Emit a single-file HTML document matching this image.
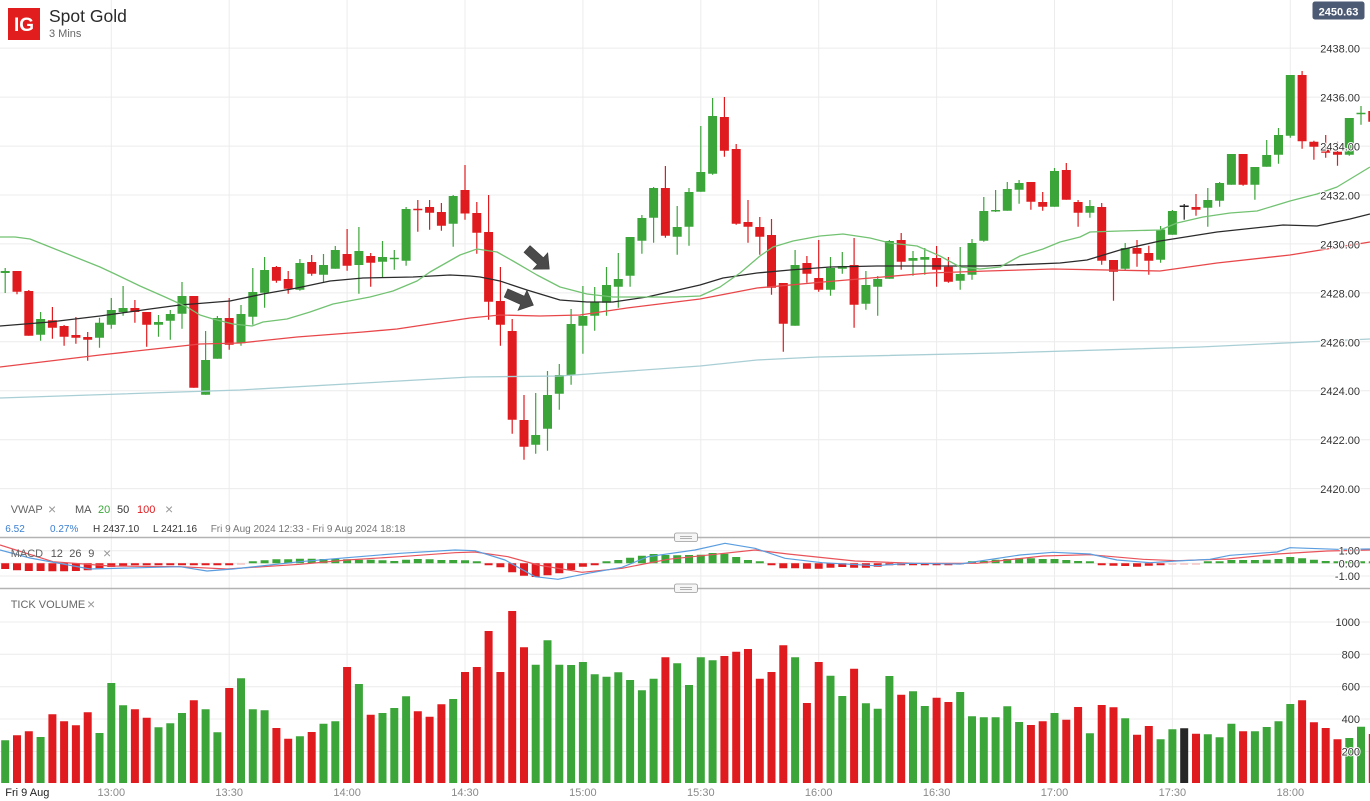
<!DOCTYPE html>
<html><head><meta charset="utf-8"><style>
html,body{margin:0;padding:0;background:#fff;}
svg{display:block;font-family:"Liberation Sans",Arial,sans-serif;}
.ax{font-size:11px;fill:#333;paint-order:stroke;stroke:#fff;stroke-width:2px;stroke-linejoin:round;}
.tm{font-size:11px;fill:#8a8a8a;text-anchor:middle;}
</style></head><body>
<svg width="1370" height="801" viewBox="0 0 1370 801" xmlns="http://www.w3.org/2000/svg">
<rect width="1370" height="801" fill="#fff"/>
<!-- vertical grid -->
<g stroke="#ececec" stroke-width="1">
<path d="M111.3 0V783M229.2 0V783M347.1 0V783M465 0V783M582.9 0V783M700.8 0V783M818.7 0V783M936.6 0V783M1054.5 0V783M1172.4 0V783M1290.3 0V783"/>
<path d="M0 48.1H1370M0 97.1H1370M0 146.1H1370M0 195H1370M0 243.9H1370M0 292.9H1370M0 341.8H1370M0 390.7H1370M0 439.7H1370M0 488.6H1370"/>
<path d="M0 550.7H1370M0 563.3H1370M0 576H1370"/>
<path d="M0 622H1370M0 654.3H1370M0 686.7H1370M0 719H1370M0 751.5H1370"/>
</g>
<!-- header -->
<rect x="8" y="8" width="32" height="32" fill="#e21d1d"/>
<text x="24" y="31" font-size="19" font-weight="bold" fill="#fff" text-anchor="middle">IG</text>
<text x="49" y="22" font-size="17.5" fill="#2a2a2a">Spot Gold</text>
<text x="49" y="37" font-size="11" fill="#666">3 Mins</text>
<rect x="1312.5" y="1.5" width="52" height="18" rx="2.5" fill="#4d5a74"/>
<text x="1338.5" y="15.3" font-size="11" font-weight="bold" fill="#fff" text-anchor="middle">2450.63</text>

<!-- candles -->
<path fill="none" stroke="#3ca53a" stroke-width="1.2" d="M5.2 268V293M40.6 312V340.7M99.5 317.7V347.7M111.3 298V328.7M123.1 286V315.7M158.5 315V336.7M170.3 310V339.7M182 282V328.7M205.6 331V394.7M217.4 316V358.7M241 305V345.7M252.8 268V324.7M264.6 257V307.7M299.9 259V290.7M323.5 254V282.7M335.3 246V268.7M358.9 227V293.7M382.5 241V277.7M394.3 250V269.7M406.1 207V265.7M453.2 195V246.7M535.7 393V453.7M547.5 371V450.7M559.3 364V409.7M571.1 309V384.7M582.9 286V353.7M594.7 287V330.7M606.5 267V315.7M618.3 253V307.7M630.1 237V286.7M641.9 215V253.7M653.6 187V242.7M677.2 206V254.7M689 188V245.7M700.8 126V191.7M712.6 98V174.7M795.1 250V325.7M830.5 257V295.7M842.3 252V273.7M865.9 271V309.7M877.7 276V315.7M889.4 240V278.7M913 251V275.7M924.8 248V274.7M960.2 247V289.7M972 239V279.7M983.8 197V241.7M995.6 190V212M1007.3 182V210.7M1019.1 180V203.7M1054.5 168V206.7M1089.9 200V217.7M1125.2 243V270.7M1160.6 226V262.7M1172.4 210V234.7M1207.8 188V226.7M1219.6 182V206.7M1231.4 154V184.7M1254.9 167V199.7M1266.7 140V166.7M1278.5 128V163.7M1290.3 75V137.7M1349.3 118V155.7M1361 106V124.7"/>
<path fill="none" stroke="#3ca53a" stroke-width="9" d="M5.2 271V273M40.6 319V334.7M99.5 322.7V337.7M111.3 310V324.7M123.1 308V312M158.5 322V324.7M170.3 314V320.7M182 296V313.7M205.6 360V394.7M217.4 318V358.7M241 314V343.3M252.8 292V316.7M264.6 270V292.7M299.9 263V289.7M323.5 265V274.7M335.3 250V268.7M358.9 251V265M382.5 257V261.7M394.3 257.8V259.3M406.1 209V260.7M453.2 196V223.7M535.7 435V444.7M547.5 395V428.7M559.3 375V393.7M571.1 324V375.3M582.9 316V325.7M594.7 302V315.7M606.5 285V302.7M618.3 279V286.7M630.1 237V275.7M641.9 218V240.7M653.6 188V217.7M677.2 227V236.7M689 192V226.7M700.8 172V191.7M712.6 116V173.7M795.1 265V325.7M830.5 268V289.7M842.3 266V268.7M865.9 285V303.7M877.7 279V286.7M889.4 241V278.7M913 258V260.7M924.8 257V259.7M960.2 274V280.7M972 243V274.7M983.8 211V240.7M995.6 210V211.5M1007.3 189V210.7M1019.1 183V189.7M1054.5 171V206.7M1089.9 206V212.7M1125.2 248V268.7M1160.6 229.5V259.7M1172.4 211V234.7M1207.8 200V207.7M1219.6 183V200.7M1231.4 154V184.7M1254.9 167V184.7M1266.7 155V166.7M1278.5 135V154.7M1290.3 75V135.7M1349.3 118V154.7M1361 112.8V114.3"/>
<path fill="none" stroke="#e01b1f" stroke-width="1.2" d="M17 271V294.3M28.8 290V335.7M52.4 307V338.7M64.1 325V345.7M75.9 317V343.7M87.7 332V360.7M134.9 300V322.7M146.7 312V346.7M193.8 296V387.7M229.2 298V349.7M276.4 266V282.7M288.2 271V293.7M311.7 255V275.7M347.1 229V270.7M370.7 253V286.7M417.8 200V231.7M429.6 200V229.7M441.4 203V230.7M465 165V219.7M476.8 202V253.7M488.6 195V319.7M500.4 267V345.7M512.2 319V433.7M524 395V459.7M665.4 166V237.7M724.4 97V156.7M736.2 144V224.7M748 200V242.7M759.8 217V254.7M771.5 219V294.7M783.3 283V351.7M806.9 256V282.7M818.7 240V291.7M854.1 238V327.7M901.2 233V269.7M936.6 246V286.7M948.4 257V282.7M1030.9 182V209.7M1042.7 192V210.7M1066.3 163V199.7M1078.1 200V226.7M1101.7 203V264.7M1113.5 260V300.7M1137 240V266.7M1148.8 245.7V274.7M1196 194V215.7M1243.1 154V185.7M1302.1 71V148.7M1313.9 140.7V159.7M1325.7 135V157.7M1337.5 141.7V165.7M1372.8 108V124"/>
<path fill="none" stroke="#e01b1f" stroke-width="9" d="M17 271V291.7M28.8 291V335.7M52.4 320.3V327.7M64.1 326V336.7M75.9 335V337.7M87.7 337V339.7M134.9 308V312M146.7 312V324.7M193.8 296V387.7M229.2 318V344.7M276.4 267V280.7M288.2 279V288.7M311.7 262V273.7M347.1 254V265.7M370.7 256V262.7M417.8 208.8V210.3M429.6 207V212.7M441.4 212V225.7M465 190V213.5M476.8 213V232.7M488.6 232V301.7M500.4 301V324.7M512.2 331V419.7M524 420V446.7M665.4 188V235.7M724.4 117V150.7M736.2 149V223.7M748 222V226.7M759.8 227V236.7M771.5 235V287.7M783.3 283V323.7M806.9 263V273.7M818.7 278V289.7M854.1 265V304.7M901.2 240V261.7M936.6 258V269.7M948.4 266.7V281.7M1030.9 182V201.7M1042.7 202V206.7M1066.3 170V199.7M1078.1 202V212.7M1101.7 207V260.7M1113.5 260V271.7M1137 248V253.7M1148.8 253V260.7M1196 207V209.7M1243.1 154V184.7M1302.1 75V141.3M1313.9 141.7V146.7M1325.7 148.7V152.7M1337.5 151.7V154.7M1372.8 111V121.7"/>
<path fill="none" stroke="#222" stroke-width="1.2" d="M1184.2 204V219.7"/>
<path fill="none" stroke="#222" stroke-width="9" d="M1184.2 205.5V207"/>

<!-- lines -->
<g fill="none" stroke-linejoin="round">
<polyline stroke="#a9cfd5" stroke-width="1.3" points="0,398 240,390 470,377 560,376 700,366 757,360 818,357 1000,353 1200,347 1370,339"/>
<polyline stroke="#e8474a" stroke-width="1.3" points="0,367 100,355 200,344 240,343 297,337 363,332 397,329 470,318 500,315 540,316 580,315 627,308 700,299 757,288 823,282 930,273 987,271 1053,269 1160,271 1217,263 1290,255 1370,242"/>
<polyline stroke="#2b2b2b" stroke-width="1.3" points="0,326 50,322 100,316 150,309 180,305 230,301 263,294 297,288 330,281 363,278 413,277 450,275 470,276 480,277 500,281 527,290 560,300 587,302 613,302 647,297 700,285 723,278 757,273 790,270 830,267 877,266 930,266 987,266 1060,263 1087,260 1120,250 1160,241 1217,232 1283,225 1317,226 1350,219 1370,214"/>
<polyline stroke="#72c272" stroke-width="1.3" points="0,237 15,237 30,239 50,247 75,257 100,267 115,274 140,286 165,297 187,307 200,315 213,319 233,324 252,326 263,322 287,319 310,312 333,304 370,297 393,291 417,281 430,272 460,255 477,249 497,252 513,261 537,275 560,287 587,294 613,297 647,297 677,297 700,296 720,287 740,273 760,256 773,247 793,241 820,236 843,234 870,238 890,243 917,246 940,256 960,267 980,269 1000,267 1020,256 1043,249 1060,242 1080,237 1090,232 1120,231 1160,230 1177,223 1203,217 1230,213 1257,211 1290,201 1317,194 1337,187 1370,167"/>
</g>

<!-- arrows -->
<g fill="#4a4a4a" stroke="#3a3a3a" stroke-width="0.6">
<polygon transform="translate(527,249) rotate(42)" points="0,-4.5 18,-4.5 18,-11 30,0 18,11 18,4.5 0,4.5"/>
<polygon transform="translate(506,293) rotate(24)" points="0,-4.5 18,-4.5 18,-11 30,0 18,11 18,4.5 0,4.5"/>
</g>

<!-- price axis labels -->
<g class="ax" text-anchor="end">
<text x="1360" y="52.6">2438.00</text>
<text x="1360" y="101.6">2436.00</text>
<text x="1360" y="150.6">2434.00</text>
<text x="1360" y="199.5">2432.00</text>
<text x="1360" y="248.4">2430.00</text>
<text x="1360" y="297.4">2428.00</text>
<text x="1360" y="346.3">2426.00</text>
<text x="1360" y="395.2">2424.00</text>
<text x="1360" y="444.2">2422.00</text>
<text x="1360" y="493.1">2420.00</text>
</g>

<!-- legend -->
<g font-size="11">
<text x="10.7" y="513" fill="#666">VWAP</text>
<text x="48" y="514" fill="#999" font-size="14">×</text>
<text x="75" y="513" fill="#555">MA</text>
<text x="98" y="513" fill="#3ca53a">20</text>
<text x="117" y="513" fill="#333">50</text>
<text x="137" y="513" fill="#e01b1f">100</text>
<text x="165" y="514" fill="#999" font-size="14">×</text>
</g>
<g font-size="10">
<text x="5.3" y="532" fill="#3a7fd0">6.52</text>
<text x="50" y="532" fill="#3a7fd0">0.27%</text>
<text x="93" y="532" fill="#333">H 2437.10</text>
<text x="153" y="532" fill="#333">L 2421.16</text>
<text x="210.7" y="532" fill="#777">Fri 9 Aug 2024 12:33 - Fri 9 Aug 2024 18:18</text>
</g>

<!-- separators -->
<path d="M0 537.5H1370M0 588.5H1370" stroke="#b3b3b3" stroke-width="1.4"/>

<!-- MACD histogram -->
<path fill="none" stroke="#e01b1f" stroke-width="8" d="M5.2 563.3V569M17 563.3V570.3M28.8 563.3V571M40.6 563.3V571M52.4 563.3V571.3M64.1 563.3V571.3M75.9 563.3V571M87.7 563.3V570.3M99.5 563.3V568.3M111.3 563.3V567M123.1 563.3V565.7M134.9 563.3V565.3M146.7 563.3V565.3M158.5 563.3V565.3M170.3 563.3V565.3M182 563.3V565.3M193.8 563.3V565.3M205.6 563.3V565.3M217.4 563.3V565.3M229.2 563.3V565.3M488.6 563.3V565.3M500.4 563.3V567.3M512.2 563.3V572.3M524 563.3V575.7M535.7 563.3V577M547.5 563.3V575.3M559.3 563.3V573.3M571.1 563.3V570M582.9 563.3V566.7M594.7 563.3V565.3M771.5 563.3V565.3M783.3 563.3V568.3M795.1 563.3V568.3M806.9 563.3V568.7M818.7 563.3V568.7M830.5 563.3V567.7M842.3 563.3V567M854.1 563.3V567.7M865.9 563.3V567.7M877.7 563.3V566.7M889.4 563.3V565.3M901.2 563.3V565.3M913 563.3V565.3M924.8 563.3V565.3M936.6 563.3V565.3M948.4 563.3V565.3M1101.7 563.3V565.3M1113.5 563.3V565.7M1125.2 563.3V566M1137 563.3V566.7M1148.8 563.3V565.7M1160.6 563.3V565.3"/>
<path fill="none" stroke="#3ca53a" stroke-width="8" d="M252.8 563.3V561.3M264.6 563.3V560.3M276.4 563.3V559.3M288.2 563.3V559.3M299.9 563.3V558.7M311.7 563.3V558.7M323.5 563.3V559M335.3 563.3V558.7M347.1 563.3V559.3M358.9 563.3V559.7M370.7 563.3V559.7M382.5 563.3V560.3M394.3 563.3V561M406.1 563.3V559.7M417.8 563.3V559M429.6 563.3V559.3M441.4 563.3V560M453.2 563.3V560M465 563.3V560.3M476.8 563.3V561.3M606.5 563.3V561.3M618.3 563.3V560M630.1 563.3V557.7M641.9 563.3V555.7M653.6 563.3V554M665.4 563.3V555M677.2 563.3V555.3M689 563.3V555M700.8 563.3V554.7M712.6 563.3V553M724.4 563.3V553.7M736.2 563.3V557M748 563.3V560M759.8 563.3V561.3M972 563.3V561.3M983.8 563.3V561M995.6 563.3V559.7M1007.3 563.3V559M1019.1 563.3V558.3M1030.9 563.3V558.3M1042.7 563.3V559M1054.5 563.3V559M1066.3 563.3V560M1078.1 563.3V561M1089.9 563.3V561.3M1207.8 563.3V561.3M1219.6 563.3V561.3M1231.4 563.3V560M1243.1 563.3V560M1254.9 563.3V560M1266.7 563.3V559.7M1278.5 563.3V559M1290.3 563.3V557M1302.1 563.3V558.3M1313.9 563.3V559.7M1325.7 563.3V561M1337.5 563.3V561.3M1349.3 563.3V561.3M1361 563.3V561.3M1372.8 563.3V561.3"/>
<path fill="none" stroke="#f3c4c4" stroke-width="8" d="M241 563.3V564.8M960.2 563.3V564.8M1172.4 563.3V564.8M1184.2 563.3V564.8M1196 563.3V564.8"/>
<!-- MACD lines -->
<g fill="none" stroke-width="1.2" stroke-linejoin="round">
<polyline stroke="#e8535a" points="0,545 53,561.7 110,566 180,566.7 227,569 300,564.3 347,560 400,556.7 455,552.7 475,552 508,556.7 538,565 582,572.3 622,568.3 668,559.3 715,554.3 755,550 788,554 855,561 915,563.3 977,563.3 1043,556 1090,554.7 1143,559.3 1177,560.7 1227,559 1277,554 1327,551 1370,550"/>
<polyline stroke="#5a9ee0" points="0,550 30,558 90,569 180,566.7 207,571 233,569 300,561.7 347,557.7 400,553.3 455,550 475,550.7 505,560 535,576.7 558,579.3 588,573.3 622,567.3 648,556.7 695,550 725,543.3 755,548.3 785,558.3 822,562.7 875,565.7 910,563.3 960,564 1020,555 1053,552.3 1090,554 1117,560 1150,562.7 1177,561 1210,559.3 1230,555.3 1277,552 1290,547.7 1337,549.3 1370,549"/>
</g>
<g font-size="11">
<text x="10.7" y="557" fill="#666">MACD</text>
<text x="50.7" y="557" fill="#555">12</text>
<text x="69.3" y="557" fill="#555">26</text>
<text x="88.3" y="557" fill="#555">9</text>
<text x="103" y="558" fill="#999" font-size="14">×</text>
</g>
<g class="ax" text-anchor="end">
<text x="1360" y="554.7">1.00</text>
<text x="1360" y="567.3">0.00</text>
<text x="1360" y="580">-1.00</text>
</g>

<!-- handles -->
<g>
<rect x="674.5" y="533" width="23" height="8.5" rx="2" fill="#f6f6f6" stroke="#9a9a9a" stroke-width="0.8"/>
<path d="M680 536.3H692M680 538.3H692" stroke="#888" stroke-width="0.7"/>
<rect x="674.5" y="584" width="23" height="8.5" rx="2" fill="#f6f6f6" stroke="#9a9a9a" stroke-width="0.8"/>
<path d="M680 587.3H692M680 589.3H692" stroke="#888" stroke-width="0.7"/>
</g>

<!-- volume -->
<text x="10.7" y="608" font-size="11" fill="#666">TICK VOLUME</text>
<text x="87" y="609" font-size="14" fill="#999">×</text>
<path fill="none" stroke="#3ca53a" stroke-width="8" d="M5.2 783V740.3M40.6 783V737M99.5 783V733M111.3 783V683M123.1 783V705.3M158.5 783V727.3M170.3 783V723.3M182 783V713M205.6 783V709.3M217.4 783V732.3M241 783V678.3M252.8 783V709.3M264.6 783V710.3M299.9 783V736.3M323.5 783V723.7M335.3 783V721.3M358.9 783V684M382.5 783V713M394.3 783V708M406.1 783V696.3M453.2 783V699M535.7 783V664.7M547.5 783V640.3M559.3 783V664.7M571.1 783V665M582.9 783V662M594.7 783V674.3M606.5 783V676.7M618.3 783V672.3M630.1 783V680M641.9 783V690.3M653.6 783V678.7M677.2 783V663.3M689 783V685M700.8 783V657.3M712.6 783V660.3M795.1 783V657.3M830.5 783V675.7M842.3 783V696M865.9 783V703.3M877.7 783V708.7M889.4 783V676M913 783V691.3M924.8 783V706M960.2 783V692M972 783V716.3M983.8 783V717.3M995.6 783V717.3M1007.3 783V706.3M1019.1 783V722M1054.5 783V713M1089.9 783V733.3M1125.2 783V718.3M1160.6 783V739.3M1172.4 783V729.3M1207.8 783V734.3M1219.6 783V737.3M1231.4 783V723.7M1254.9 783V731.3M1266.7 783V727M1278.5 783V721.3M1290.3 783V704M1349.3 783V738M1361 783V726.7"/>
<path fill="none" stroke="#e01b1f" stroke-width="8" d="M17 783V735.3M28.8 783V731.3M52.4 783V714.3M64.1 783V721.3M75.9 783V725.3M87.7 783V712.3M134.9 783V709.3M146.7 783V717.7M193.8 783V700.3M229.2 783V688M276.4 783V728M288.2 783V738.7M311.7 783V732M347.1 783V667M370.7 783V714.7M417.8 783V711.3M429.6 783V716.7M441.4 783V704.3M465 783V672M476.8 783V667M488.6 783V631M500.4 783V672M512.2 783V611M524 783V647.3M665.4 783V657.3M724.4 783V656M736.2 783V651.7M748 783V649M759.8 783V678.7M771.5 783V672M783.3 783V645.3M806.9 783V703M818.7 783V662M854.1 783V668.7M901.2 783V694.7M936.6 783V697.7M948.4 783V702M1030.9 783V725M1042.7 783V721.3M1066.3 783V719.7M1078.1 783V707M1101.7 783V705M1113.5 783V707.3M1137 783V734.7M1148.8 783V726M1196 783V733.7M1243.1 783V731.3M1302.1 783V700.3M1313.9 783V722.3M1325.7 783V728M1337.5 783V739.3M1372.8 783V734"/>
<path fill="none" stroke="#262626" stroke-width="8" d="M1184.2 783V728.3"/>
<g class="ax" text-anchor="end">
<text x="1360" y="626">1000</text>
<text x="1360" y="658.3">800</text>
<text x="1360" y="690.7">600</text>
<text x="1360" y="723">400</text>
<text x="1360" y="755.5">200</text>
</g>

<!-- time axis -->
<text x="5.3" y="796" font-size="11" fill="#222">Fri 9 Aug</text>
<g class="tm">
<text x="111.3" y="796">13:00</text>
<text x="229.2" y="796">13:30</text>
<text x="347.1" y="796">14:00</text>
<text x="465" y="796">14:30</text>
<text x="582.9" y="796">15:00</text>
<text x="700.8" y="796">15:30</text>
<text x="818.7" y="796">16:00</text>
<text x="936.6" y="796">16:30</text>
<text x="1054.5" y="796">17:00</text>
<text x="1172.4" y="796">17:30</text>
<text x="1290.3" y="796">18:00</text>
</g>
</svg>
</body></html>
